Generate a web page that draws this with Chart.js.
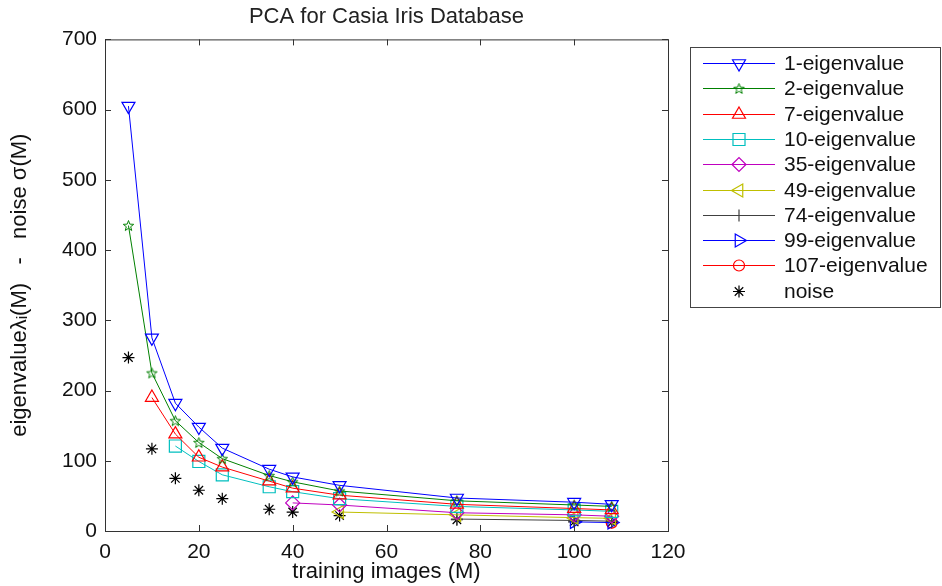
<!DOCTYPE html>
<html>
<head>
<meta charset="utf-8">
<script src="https://cdn.jsdelivr.net/npm/chart.js@4.4.1/dist/chart.umd.min.js"></script>
<style>
  html, body { margin: 0; padding: 0; background: #fff; }
  #wrap { width: 942px; height: 586px; position: relative; }
</style>
</head>
<body>
<div id="wrap"><canvas id="pcaChart" width="942" height="586"></canvas></div>
<script>
// training images M
const trainImages = [5, 10, 15, 20, 25, 35, 40, 50, 75, 100, 108];

// eigenvalue - noise (null = eigenvalue not present yet)
const eig1   = [605, 275, 182, 148, 118, 88, 77, 65, 47, 41, 38];
const eig2   = [435, 225, 157, 126, 103, 79, 70, 57, 43, 37, 35];
const eig7   = [null, 190, 138, 105, 91, 71, 61, 51, 38, 32, 30];
const eig10  = [null, null, 121, 99, 80, 63, 56, 46, 35, 30, 28];
const eig35  = [null, null, null, null, null, null, 40, 37, 26, 23, 21];
const eig49  = [null, null, null, null, null, null, null, 27, 23, 19, 18];
const eig74  = [null, null, null, null, null, null, null, null, 17, 15, 14];
const eig99  = [null, null, null, null, null, null, null, null, null, 13, 12];
const eig107 = [null, null, null, null, null, null, null, null, null, null, 12];
const noise  = [247, 117, 75, 58, 46, 31, 27, 22, 16, 13, 12];

const xTicks = [0, 20, 40, 60, 80, 100, 120];
const yTicks = [0, 100, 200, 300, 400, 500, 600, 700];

const FONT = '"Liberation Sans", Arial, sans-serif';

// pentagram marker (matlab 'p')
function pentagram(color) {
  const c = document.createElement('canvas');
  c.width = 13; c.height = 13;
  const g = c.getContext('2d');
  g.strokeStyle = color;
  g.lineWidth = 1;
  g.beginPath();
  for (let i = 0; i < 10; i++) {
    const r = i % 2 === 0 ? 5.5 : 2.3;
    const a = -Math.PI / 2 + i * Math.PI / 5;
    const px = 6.5 + r * Math.cos(a), py = 7 + r * Math.sin(a);
    if (i === 0) g.moveTo(px, py); else g.lineTo(px, py);
  }
  g.closePath();
  g.stroke();
  return c;
}

const series = [
  { label: '1-eigenvalue',   data: eig1,   color: '#0000ff', style: 'triangle', rot: 180, r: 7.5 },
  { label: '2-eigenvalue',   data: eig2,   color: '#008000', style: pentagram('#008000'), rot: 0, r: 6 },
  { label: '7-eigenvalue',   data: eig7,   color: '#ff0000', style: 'triangle', rot: 0, r: 7.5 },
  { label: '10-eigenvalue',  data: eig10,  color: '#00bfbf', style: 'rect', rot: 0, r: 8.5 },
  { label: '35-eigenvalue',  data: eig35,  color: '#bf00bf', style: 'rectRot', rot: 0, r: 7 },
  { label: '49-eigenvalue',  data: eig49,  color: '#bfbf00', style: 'triangle', rot: 270, r: 7.5 },
  { label: '74-eigenvalue',  data: eig74,  color: '#404040', style: 'cross', rot: 0, r: 6 },
  { label: '99-eigenvalue',  data: eig99,  color: '#0000ff', style: 'triangle', rot: 90, r: 7.5 },
  { label: '107-eigenvalue', data: eig107, color: '#ff0000', style: 'circle', rot: 0, r: 5.5 },
  { label: 'noise',          data: noise,  color: '#000000', style: 'star', rot: 0, r: 6, noLine: true }
];

const datasets = series.map(s => ({
  label: s.label,
  data: trainImages.map((m, i) => s.data[i] === null ? null : { x: m, y: s.data[i] }).filter(p => p),
  borderColor: s.color,
  backgroundColor: 'rgba(0,0,0,0)',
  borderWidth: 1,
  pointStyle: s.style,
  rotation: s.rot,
  pointRadius: s.r,
  pointBorderColor: s.color,
  pointBackgroundColor: 'rgba(0,0,0,0)',
  pointBorderWidth: 1.2,
  showLine: !s.noLine,
  tension: 0
}));

// box around plot + inward tick marks on all four sides
const boxPlugin = {
  id: 'matlabBox',
  afterDraw(chart) {
    const { ctx, chartArea: a, scales } = chart;
    ctx.save();
    ctx.strokeStyle = '#333';
    ctx.lineWidth = 1;
    ctx.strokeRect(a.left + 0.5, a.top + 0.5, a.right - a.left, a.bottom - a.top);
    ctx.beginPath();
    xTicks.forEach(v => {
      const px = Math.round(scales.x.getPixelForValue(v)) + 0.5;
      ctx.moveTo(px, a.bottom); ctx.lineTo(px, a.bottom - 6);
      ctx.moveTo(px, a.top); ctx.lineTo(px, a.top + 6);
    });
    yTicks.forEach(v => {
      const py = Math.round(scales.y.getPixelForValue(v)) + 0.5;
      ctx.moveTo(a.left, py); ctx.lineTo(a.left + 6, py);
      ctx.moveTo(a.right, py); ctx.lineTo(a.right - 6, py);
    });
    ctx.stroke();
    ctx.restore();
  }
};

// matlab style legend box on the right
const legendPlugin = {
  id: 'matlabLegend',
  afterDraw(chart) {
    const ctx = chart.ctx;
    const left = 690, top = 47, w = 250, h = 260, rowH = 25.3;
    ctx.save();
    ctx.fillStyle = '#fff';
    ctx.fillRect(left, top, w, h);
    ctx.strokeStyle = '#444';
    ctx.lineWidth = 1;
    ctx.strokeRect(left + 0.5, top + 0.5, w, h);
    ctx.font = '21px ' + FONT;
    ctx.textBaseline = 'middle';
    series.forEach((s, i) => {
      const y = Math.round(top + 16 + i * rowH) + 0.5;
      ctx.strokeStyle = s.color;
      ctx.fillStyle = 'rgba(0,0,0,0)';
      if (!s.noLine) {
        ctx.lineWidth = 1;
        ctx.beginPath();
        ctx.moveTo(703, y); ctx.lineTo(775, y);
        ctx.stroke();
      }
      ctx.lineWidth = 1.2;
      Chart.helpers.drawPoint(ctx, {
        pointStyle: s.style, rotation: s.rot, radius: s.r, borderWidth: 1.2
      }, 739, y);
      ctx.fillStyle = '#111';
      ctx.fillText(s.label, 784, y + 1);
    });
    ctx.restore();
  }
};

const ctx = document.getElementById('pcaChart').getContext('2d');
const pcaChart = new Chart(ctx, {
  type: 'line',
  data: { datasets: datasets },
  plugins: [boxPlugin, legendPlugin],
  options: {
    responsive: false,
    animation: false,
    layout: { padding: { left: 0, right: 274, top: 0, bottom: 0 } },
    plugins: {
      legend: { display: false },
      tooltip: { enabled: false },
      title: {
        display: true,
        fullSize: false,
        text: 'PCA for Casia Iris Database',
        color: '#222',
        font: { family: FONT, size: 22, weight: 'normal' },
        padding: { top: 4, bottom: 9 }
      }
    },
    scales: {
      x: {
        type: 'linear',
        min: 0, max: 120,
        afterFit(s) { s.height = 55; },
        afterBuildTicks(s) { s.ticks = xTicks.map(v => ({ value: v })); },
        grid: { display: false },
        border: { display: false },
        ticks: {
          color: '#111', padding: 1,
          font: { family: FONT, size: 21 }
        },
        title: {
          display: true, text: 'training images (M)', color: '#111',
          font: { family: FONT, size: 22 },
          padding: { top: 0, bottom: 1 }
        }
      },
      y: {
        type: 'linear',
        min: 0, max: 700,
        afterFit(s) { s.width = 105; },
        afterBuildTicks(s) { s.ticks = yTicks.map(v => ({ value: v })); },
        grid: { display: false },
        border: { display: false },
        ticks: {
          color: '#111', padding: 0,
          font: { family: FONT, size: 21 }
        },
        title: {
          display: true, text: 'eigenvalue\u03bb\u1d62(M)   -   noise \u03c3(M)', color: '#111',
          font: { family: FONT, size: 22 },
          padding: { top: 7, bottom: 0 }
        }
      }
    }
  }
});
</script>
</body>
</html>
